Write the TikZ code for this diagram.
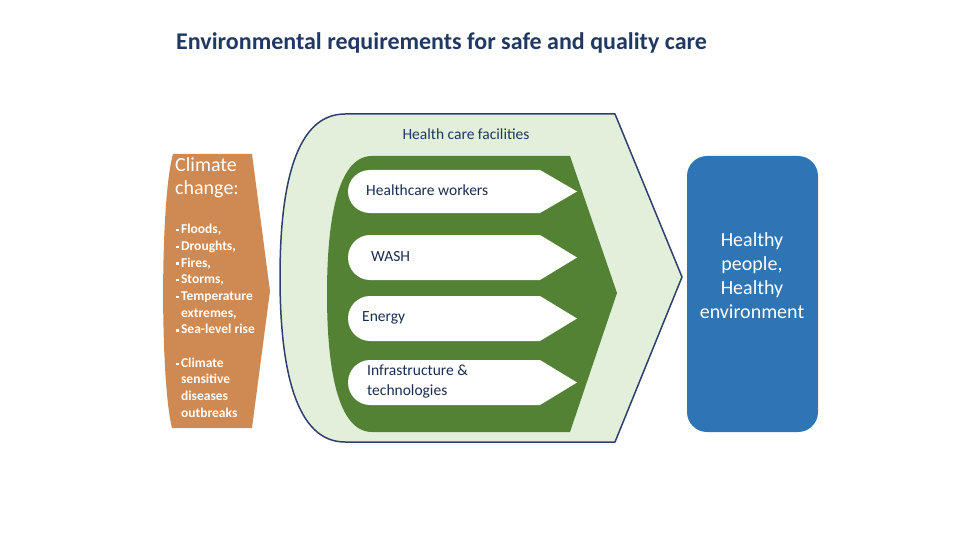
\documentclass[tikz,border=0pt]{standalone}
\usepackage{fontspec}
\setmainfont{Carlito}
\definecolor{titleblue}{RGB}{31,56,100}
\definecolor{hcfborder}{RGB}{47,64,110}
\definecolor{hcffill}{RGB}{226,239,218}
\definecolor{hcgreen}{RGB}{84,130,53}
\definecolor{climateorange}{RGB}{207,137,82}
\definecolor{healthyblue}{RGB}{46,117,182}
\tikzset{
every picture/.style={x=1pt, y=-1pt},
%%%%%%%%%%  Node styles
titletext/.style={font=\fontsize{24}{28}\selectfont\bfseries, text=titleblue,
                  inner sep=0},
hcftext/.style={font=\fontsize{15.5}{19}\selectfont, text=titleblue,
                inner sep=0},
pilltext/.style={font=\fontsize{15.5}{20}\selectfont, text=titleblue!80!black,
                 inner sep=0, align=left},
climatetext/.style={font=\fontsize{20}{23}\selectfont, text=white,
                    inner sep=0, align=left},
hazardtext/.style={font=\fontsize{13.5}{16.7}\selectfont\bfseries, text=white,
                   inner sep=0, align=left},
healthytext/.style={font=\fontsize{20}{24}\selectfont, text=white,
                    inner sep=0, align=center},
%%%%%%% Fill styles %%%%%%%%%%%%%%%
facility/.style={fill=hcffill, draw=hcfborder, line width=1.5pt,
                 line join=round},
core/.style={fill=hcgreen},
pill/.style={fill=white},
}
\newcommand{\bul}{\raisebox{0.35ex}{\rule{2.3pt}{2.3pt}}\hspace{2.6pt}}

\begin{document}
\begin{tikzpicture}
\useasboundingbox (0,0) rectangle (960,540);
\node[titletext, anchor=base west] (title) at (176,50)
     {Environmental requirements for safe and quality care};
%%%% climate change
\fill[climateorange] (173,154) -- (252,154) -- (270,291) -- (252,428)
     -- (172,428) .. controls (160,380) and (160,200) .. cycle;
\node[climatetext, anchor=north west] (climate) at (175,157)
     {Climate\\change:};
\node[hazardtext, anchor=north west] (hazards) at (176,224)
     {\bul Floods,\\ \bul Droughts,\\ \bul Fires,\\ \bul Storms,\\
      \bul Temperature\\ \phantom{\bul}extremes,\\ \bul Sea-level rise\\[16.7pt]
      \bul Climate\\ \phantom{\bul}sensitive\\ \phantom{\bul}diseases\\
      \phantom{\bul}outbreaks};
%%%% health care facilities
\draw[facility] (615,114) -- (682,277) -- (615,442) -- (345,442)
     .. controls (296,442) and (280,370) .. (280,277)
     .. controls (280,184) and (296,114) .. (345,114) -- cycle;
\node[hcftext] (hcf) at (466,134) {Health care facilities};
\fill[core] (570,156) -- (617,293) -- (570,432) -- (372,432)
     .. controls (338,432) and (327,370) .. (327,294)
     .. controls (327,218) and (338,156) .. (372,156) -- cycle;
\foreach \top/\bot/\tx/\name/\txt in {170/213/366/workers/Healthcare workers,
    235/280/371/wash/WASH, 296/341/362/energy/Energy,
    360/405/367/infra/{Infrastructure \&\\technologies}}
{
  \fill[pill] (540,\top) -- (577,{(\top+\bot)/2}) -- (540,\bot) -- (370,\bot)
       arc[start angle=90, end angle=270, x radius=22,
           y radius={(\bot-\top)/2}] -- cycle;
  \node[pilltext, anchor=west] (\name) at (\tx,{(\top+\bot)/2-1}) {\txt};
}
%%%% outcome
\fill[healthyblue, rounded corners=20pt] (687,156) rectangle (818,432);
\node[healthytext] (healthy) at (752,276)
     {Healthy\\people,\\Healthy\\environment};
\end{tikzpicture}
\end{document}
